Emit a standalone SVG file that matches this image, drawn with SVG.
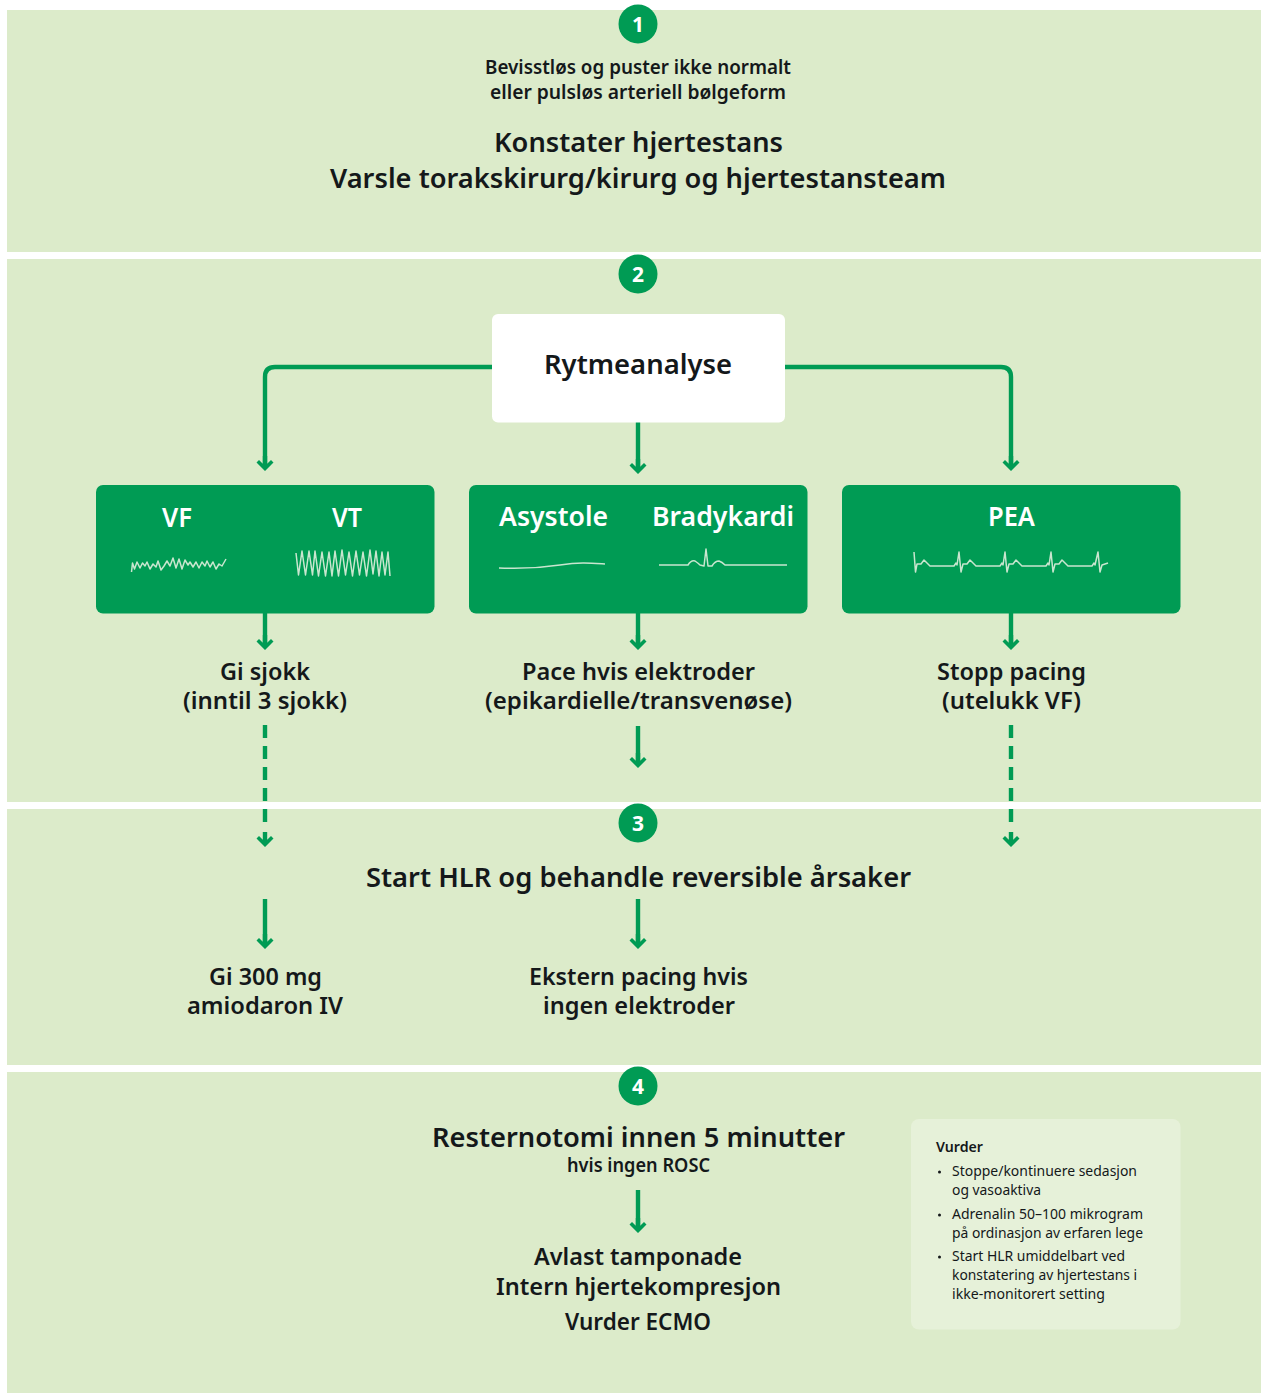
<svg xmlns="http://www.w3.org/2000/svg" width="1261" height="1393" viewBox="0 0 1261 1393">
<style>
text{font-family:"Noto Sans","Liberation Sans",sans-serif;fill:#14181a;font-weight:600}
.b{fill:#dcebca}
.c{fill:#009b54}
.n{fill:#fff;font-size:21px;font-weight:700}
.s{font-size:19px}
.m{font-size:24px}
.l{font-size:27px}
.w{fill:#fff;font-size:27px}
.t{font-size:14.5px;font-weight:400}
.con{fill:none;stroke:#009b54;stroke-width:4.400}
.e{fill:none;stroke:#c9e6cf;stroke-width:1.500;stroke-linejoin:round}
</style>
<defs>
<marker id="ah" markerUnits="userSpaceOnUse" markerWidth="20" markerHeight="18" refX="9" refY="11" orient="0" overflow="visible">
<path d="M9 15L0.500 6.500L3 4L6.800 7.800V0H11.200V7.800L15 4L17.500 6.500Z" fill="#009b54"/>
</marker>
</defs>
<rect width="1261" height="1393" fill="#fff"/>
<g id="bands">
<rect class="b" x="7" y="10" width="1254" height="242"/>
<rect class="b" x="7" y="259" width="1254" height="543"/>
<rect class="b" x="7" y="809" width="1254" height="256"/>
<rect class="b" x="7" y="1072" width="1254" height="321"/>
</g>
<g id="connectors">
<path class="con" d="M492 367H275Q265 367 265 377V467" marker-end="url(#ah)"/>
<path class="con" d="M785 367H1001Q1011 367 1011 377V467" marker-end="url(#ah)"/>
<path class="con" d="M638 422V470" marker-end="url(#ah)"/>
<path class="con" d="M265 613V646" marker-end="url(#ah)"/>
<path class="con" d="M638 613V646" marker-end="url(#ah)"/>
<path class="con" d="M1011 613V646" marker-end="url(#ah)"/>
<path class="con" d="M638 726V764" marker-end="url(#ah)"/>
<path class="con" d="M265 725V823" stroke-dasharray="13 8"/>
<path class="con" d="M265 842V843" marker-end="url(#ah)" stroke="none"/>
<path class="con" d="M1011 725V823" stroke-dasharray="13 8"/>
<path class="con" d="M1011 842V843" marker-end="url(#ah)" stroke="none"/>
<path class="con" d="M265 899V945" marker-end="url(#ah)"/>
<path class="con" d="M638 899V945" marker-end="url(#ah)"/>
<path class="con" d="M638 1190V1229" marker-end="url(#ah)"/>
</g>
<g id="step1">
<circle class="c" cx="638" cy="24" r="19.500"/><text class="n" x="638" y="31.500" text-anchor="middle">1</text>
<text class="s" x="485" y="74" textLength="306" lengthAdjust="spacingAndGlyphs">Bevisstløs og puster ikke normalt</text>
<text class="s" x="490" y="99" textLength="296" lengthAdjust="spacingAndGlyphs">eller pulsløs arteriell bølgeform</text>
<text class="l" x="494" y="152" textLength="289" lengthAdjust="spacingAndGlyphs">Konstater hjertestans</text>
<text class="l" x="330" y="188" textLength="616" lengthAdjust="spacingAndGlyphs">Varsle torakskirurg/kirurg og hjertestansteam</text>
</g>
<g id="step2">
<circle class="c" cx="638" cy="274" r="19.500"/><text class="n" x="638" y="281.500" text-anchor="middle">2</text>
</g>
<g id="rytmeanalyse">
<rect x="492" y="314" width="293" height="108.500" rx="6" fill="#fff"/>
<text class="l" x="544" y="374" textLength="188" lengthAdjust="spacingAndGlyphs">Rytmeanalyse</text>
</g>
<g id="vf-vt">
<rect class="c" x="96" y="485" width="338.500" height="128.500" rx="7"/>
<text class="w" x="162" y="527" textLength="30" lengthAdjust="spacingAndGlyphs">VF</text>
<text class="w" x="332" y="527" textLength="30" lengthAdjust="spacingAndGlyphs">VT</text>
<path class="e" d="M131.500 572L132.500 563L134.500 569L137 562L140 568L142.500 563L145 566L147 562L150 569L153 564L156 567L158 561L161 570L164 566L167 561L170 566L173 558L176 568L179 559L182 569L185 560L188 565L190 562L193 567L196 562L199 568L202 562L205 566L207 561L210 567L213 562L216 569L219 564L222 566L226 559"/>
<path class="e" d="M296 553L298.500 575L302 551L305.500 575L309 551L312.500 575L315 551L318.500 576L322 552L325.500 576L329 552L332 576L335 551L338.500 576L342 550L345.500 575L349 552L352.500 576L356 551L359.500 575L363 552L366.500 576L370 550L373 574L376 551L379 576L382 552L385 575L388 552L390 576"/>
</g>
<g id="asystole-bradykardi">
<rect class="c" x="469" y="485" width="338.500" height="128.500" rx="7"/>
<text class="w" x="499" y="526" textLength="109" lengthAdjust="spacingAndGlyphs">Asystole</text>
<text class="w" x="652" y="526" textLength="142" lengthAdjust="spacingAndGlyphs">Bradykardi</text>
<path class="e" d="M499 568C520 569 540 568 560 565S590 563 605 564"/>
<path class="e" d="M659 565H688Q691 560 695 561Q698 563 700 565L704 566L706 549L708 566H712Q715 561 719 561Q722 562 725 565H787"/>
</g>
<g id="pea">
<rect class="c" x="842" y="485" width="338.500" height="128.500" rx="7"/>
<text class="w" x="988" y="526" textLength="47" lengthAdjust="spacingAndGlyphs">PEA</text>
<path class="e" d="M914 552L915.500 572L917 564L921 564L924 560L927 563L930 566H954L956 563L957 565L959 552L961 572L963 564L967 564L970 560L973 563L976 566H1000L1002 563L1003 565L1005 552L1007 572L1009 564L1013 564L1016 560L1019 563L1022 566H1046L1048 563L1049 565L1051 552L1053 572L1055 564L1059 564L1062 560L1065 563L1068 566H1092L1094 563L1095 565L1098 552L1100 572L1102 565L1105 564L1108 563"/>
</g>
<g id="vf-steps">
<text class="m" x="220" y="680" textLength="90" lengthAdjust="spacingAndGlyphs">Gi sjokk</text>
<text class="m" x="183" y="709" textLength="164" lengthAdjust="spacingAndGlyphs">(inntil 3 sjokk)</text>
</g>
<g id="pace-steps">
<text class="m" x="522" y="680" textLength="233" lengthAdjust="spacingAndGlyphs">Pace hvis elektroder</text>
<text class="m" x="485" y="709" textLength="307" lengthAdjust="spacingAndGlyphs">(epikardielle/transvenøse)</text>
</g>
<g id="pea-steps">
<text class="m" x="937" y="680" textLength="149" lengthAdjust="spacingAndGlyphs">Stopp pacing</text>
<text class="m" x="942" y="709" textLength="139" lengthAdjust="spacingAndGlyphs">(utelukk VF)</text>
</g>
<g id="step3">
<circle class="c" cx="638" cy="823" r="19.500"/><text class="n" x="638" y="830.500" text-anchor="middle">3</text>
<text class="l" x="366" y="887" textLength="545" lengthAdjust="spacingAndGlyphs">Start HLR og behandle reversible årsaker</text>
<text class="m" x="209" y="985" textLength="113" lengthAdjust="spacingAndGlyphs">Gi 300 mg</text>
<text class="m" x="187" y="1014" textLength="156" lengthAdjust="spacingAndGlyphs">amiodaron IV</text>
<text class="m" x="529" y="985" textLength="219" lengthAdjust="spacingAndGlyphs">Ekstern pacing hvis</text>
<text class="m" x="543" y="1014" textLength="192" lengthAdjust="spacingAndGlyphs">ingen elektroder</text>
</g>
<g id="step4">
<circle class="c" cx="638" cy="1086" r="19.500"/><text class="n" x="638" y="1093.500" text-anchor="middle">4</text>
<text class="l" x="432" y="1147" textLength="413" lengthAdjust="spacingAndGlyphs">Resternotomi innen 5 minutter</text>
<text class="s" x="567" y="1172" textLength="143" lengthAdjust="spacingAndGlyphs">hvis ingen ROSC</text>
<text class="m" x="534" y="1265" textLength="208" lengthAdjust="spacingAndGlyphs">Avlast tamponade</text>
<text class="m" x="496" y="1295" textLength="285" lengthAdjust="spacingAndGlyphs">Intern hjertekompresjon</text>
<text class="m" x="565" y="1330" textLength="146" lengthAdjust="spacingAndGlyphs">Vurder ECMO</text>
</g>
<g id="vurder">
<rect x="911" y="1119" width="269.500" height="210.500" rx="8" fill="#e6f1d9"/>
<text class="t" style="font-weight:600" x="936" y="1152" textLength="47" lengthAdjust="spacingAndGlyphs">Vurder</text>
<circle cx="939.500" cy="1172" r="1.500" fill="#14181a"/>
<circle cx="939.500" cy="1215" r="1.500" fill="#14181a"/>
<circle cx="939.500" cy="1257" r="1.500" fill="#14181a"/>
<text class="t" x="952" y="1176" textLength="185" lengthAdjust="spacingAndGlyphs">Stoppe/kontinuere sedasjon</text>
<text class="t" x="952" y="1195" textLength="89" lengthAdjust="spacingAndGlyphs">og vasoaktiva</text>
<text class="t" x="952" y="1219" textLength="191" lengthAdjust="spacingAndGlyphs">Adrenalin 50–100 mikrogram</text>
<text class="t" x="952" y="1238" textLength="191" lengthAdjust="spacingAndGlyphs">på ordinasjon av erfaren lege</text>
<text class="t" x="952" y="1261" textLength="173" lengthAdjust="spacingAndGlyphs">Start HLR umiddelbart ved</text>
<text class="t" x="952" y="1280" textLength="185" lengthAdjust="spacingAndGlyphs">konstatering av hjertestans i</text>
<text class="t" x="952" y="1299" textLength="153" lengthAdjust="spacingAndGlyphs">ikke-monitorert setting</text>
</g>
</svg>
